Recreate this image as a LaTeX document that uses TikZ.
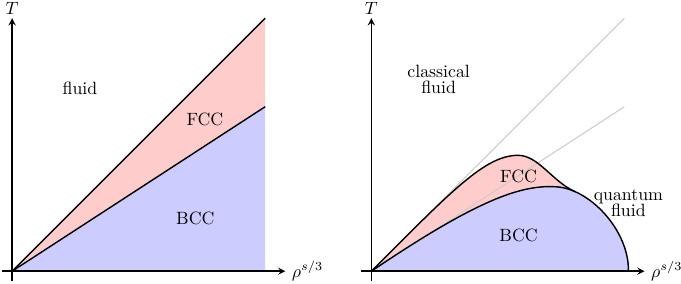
\documentclass[tikz,border=0pt]{standalone}
\usetikzlibrary{arrows}
\begin{document}
\begin{tikzpicture}[xscale=1,yscale=1]
	% Styles
	\tikzstyle{axe}=[->,>=stealth,thick]
	\tikzstyle{frontiere}=[thick,line join=round]
	\tikzstyle{guide}=[black!20,semithick]
	\tikzstyle{zoneFCC}=[fill=red!20]
	\tikzstyle{zoneBCC}=[fill=blue!20]
	\tikzstyle{etiquette}=[align=center]
	% Dimensions
	\def\Largeur{5}
	\def\HautFCC{5}
	\def\HautBCC{3.25}
	\def\Decalage{7.1}
	\useasboundingbox (-0.24,-0.24) rectangle (13.22,5.36);
	% Diagramme de gauche
	\coordinate (O) at (0,0);
	\coordinate (A) at (\Largeur,\HautFCC);
	\coordinate (B) at (\Largeur,\HautBCC);
	\coordinate (C) at (\Largeur,0);
	\fill[zoneFCC] (O)--(A)--(B)--cycle;
	\fill[zoneBCC] (O)--(B)--(C)--cycle;
	\draw[frontiere] (O)--(A);
	\draw[frontiere] (O)--(B);
	\coordinate (Xg) at (-0.2,0);
	\coordinate (Xd) at (5.4,0);
	\coordinate (Yb) at (0,-0.2);
	\coordinate (Yh) at (0,5);
	\draw[axe] (Xg)--(Xd) node[right]{$\rho^{s/3}$};
	\draw[axe] (Yb)--(Yh) node[above,inner sep=1.5pt]{$T$};
	\node[etiquette] (fluide) at (1.34,3.61) {fluid};
	\node[etiquette] (fcc) at (3.81,3.0) {FCC};
	\node[etiquette] (bcc) at (3.62,1.05) {BCC};
	% Diagramme de droite
	\begin{scope}[xshift=\Decalage cm]
		\coordinate (O2) at (0,0);
		\coordinate (A2) at (\Largeur,\HautFCC);
		\coordinate (B2) at (\Largeur,\HautBCC);
		\coordinate (J) at (4.025,1.573);
		\coordinate (S) at (3.6,1.67);
		\coordinate (F) at (5.08,0);
		\fill[zoneFCC] (O2) .. controls (1.6,1.6) and (2.25,2.29) .. (2.9,2.29)
			.. controls (3.3,2.29) and (3.575,1.773) .. (J) -- (F) -- cycle;
		\fill[zoneBCC] (O2) .. controls (2.0,1.35) and (2.9,1.7) .. (S)
			.. controls (4.3,1.67) and (5.1,0.8) .. (F) -- cycle;
		\draw[guide] (O2)--(A2);
		\draw[guide] (O2)--(B2);
		\draw[frontiere] (O2) .. controls (1.6,1.6) and (2.25,2.29) .. (2.9,2.29)
			.. controls (3.3,2.29) and (3.575,1.773) .. (J);
		\draw[frontiere] (O2) .. controls (2.0,1.35) and (2.9,1.7) .. (S)
			.. controls (4.3,1.67) and (5.1,0.8) .. (F);
		\coordinate (Xg2) at (-0.2,0);
		\coordinate (Xd2) at (5.4,0);
		\coordinate (Yb2) at (0,-0.2);
		\coordinate (Yh2) at (0,5);
		\draw[axe] (Xg2)--(Xd2) node[right]{$\rho^{s/3}$};
		\draw[axe] (Yb2)--(Yh2) node[above,inner sep=1.5pt]{$T$};
		\node[etiquette] (classique) at (1.33,3.79) {classical\\[-3pt]fluid};
		\node[etiquette] (fcc2) at (2.91,1.88) {FCC};
		\node[etiquette] (bcc2) at (2.91,0.71) {BCC};
		\node[etiquette] (quantique) at (5.08,1.34) {quantum\\[-3pt]fluid};
	\end{scope}
\end{tikzpicture}
\end{document}
